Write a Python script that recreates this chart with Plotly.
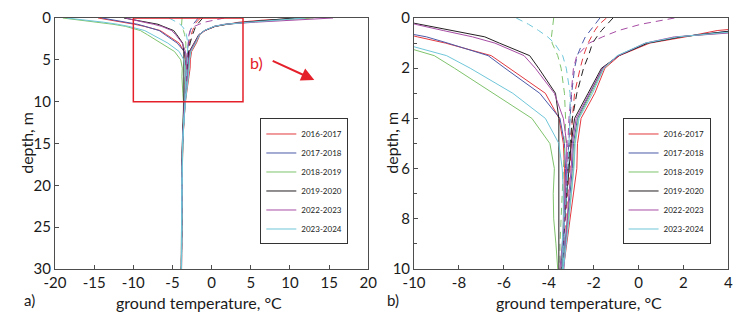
import plotly.graph_objects as go

# ---------------- data ----------------
depth = [0, 0.25, 0.5, 0.75, 1.0, 1.5, 2, 3, 4, 5, 6, 7, 8, 9, 10, 12.5, 15, 20, 25, 30]

years = ["2016-2017", "2017-2018", "2018-2019", "2019-2020", "2022-2023", "2023-2024"]
colors = ["#e2383f", "#4b5aa8", "#7fc36c", "#231f20", "#a64ca4", "#6fc6d9"]

tmin_1617 = [-14.5, -12.8, -11.0, -9.85, -8.6, -6.56, -5.75, -4.15, -3.54, -3.35, -3.3, -3.35, -3.4, -3.45, -3.5, -3.62, -3.72, -3.8, -3.84, -3.86]
tmax_1617 = [12.5, 6.6, 3.5, 2.1, 0.5, -0.85, -1.5, -1.95, -2.56, -2.72, -2.75, -2.9, -3.05, -3.2, -3.35, -3.55, -3.68, -3.78, -3.82, -3.84]
tmean_1617 = [-1.43, -1.75, -1.95, -2.1, -2.25, -2.45, -2.6, -2.85, -2.95, -3.0, -3.05, -3.15, -3.25, -3.32, -3.42, -3.58, -3.7, -3.79, -3.83, -3.85]

tmin_1718 = [-14.0, -12.5, -10.9, -9.45, -8.5, -6.7, -5.95, -4.4, -3.5, -3.3, -3.25, -3.3, -3.35, -3.4, -3.45, -3.6, -3.72, -3.8, -3.84, -3.86]
tmax_1718 = [11.5, 7.3, 4.3, 1.85, 0.4, -0.9, -1.6, -2.15, -2.72, -2.9, -2.95, -3.05, -3.15, -3.28, -3.4, -3.57, -3.7, -3.79, -3.83, -3.85]
tmean_1718 = [-1.72, -1.95, -2.15, -2.37, -2.5, -2.73, -2.85, -2.98, -3.05, -3.1, -3.15, -3.2, -3.28, -3.35, -3.43, -3.58, -3.71, -3.8, -3.84, -3.86]

tmin_1819 = [-19.0, -16.8, -14.4, -12.6, -11.0, -9.1, -8.2, -6.45, -4.75, -3.95, -3.75, -3.8, -3.78, -3.68, -3.6, -3.65, -3.74, -3.81, -3.85, -3.87]
tmax_1819 = [13.0, 8.0, 5.0, 1.8, 0.35, -0.92, -1.55, -2.1, -2.68, -2.85, -2.9, -3.0, -3.12, -3.25, -3.38, -3.56, -3.7, -3.79, -3.83, -3.85]
tmean_1819 = [-3.78, -3.82, -3.86, -3.88, -3.85, -3.6, -3.45, -3.3, -3.25, -3.28, -3.35, -3.4, -3.45, -3.5, -3.5, -3.6, -3.72, -3.8, -3.84, -3.86]

tmin_1920 = [-11.2, -9.8, -8.3, -6.85, -6.2, -4.85, -4.45, -3.7, -3.55, -3.55, -3.55, -3.55, -3.55, -3.55, -3.55, -3.65, -3.75, -3.82, -3.85, -3.88]
tmax_1920 = [10.5, 7.2, 4.3, 1.9, 0.4, -0.88, -1.65, -2.25, -2.85, -3.0, -3.1, -3.2, -3.3, -3.38, -3.45, -3.6, -3.72, -3.8, -3.84, -3.86]
tmean_1920 = [-1.14, -1.4, -1.65, -1.86, -2.05, -2.23, -2.45, -2.75, -2.95, -3.05, -3.15, -3.22, -3.3, -3.38, -3.45, -3.6, -3.72, -3.8, -3.84, -3.86]

tmin_2223 = [-11.0, -9.95, -8.7, -7.4, -6.4, -5.1, -4.6, -3.75, -3.35, -3.2, -3.2, -3.25, -3.3, -3.4, -3.5, -3.62, -3.73, -3.81, -3.84, -3.86]
tmax_2223 = [15.5, 9.5, 5.6, 1.6, 0.3, -0.9, -1.6, -2.2, -2.78, -2.95, -3.0, -3.1, -3.2, -3.3, -3.4, -3.57, -3.7, -3.79, -3.83, -3.85]
tmean_2223 = [1.6, 0.1, -0.9, -1.6, -2.2, -2.75, -2.9, -3.0, -3.1, -3.15, -3.2, -3.25, -3.3, -3.37, -3.44, -3.59, -3.71, -3.8, -3.84, -3.86]

tmin_2324 = [-18.5, -16.0, -13.8, -12.0, -10.6, -8.55, -7.5, -5.6, -4.15, -3.55, -3.4, -3.35, -3.35, -3.4, -3.4, -3.58, -3.72, -3.8, -3.84, -3.86]
tmax_2324 = [12.0, 8.0, 4.8, 1.75, 0.3, -0.95, -1.55, -2.05, -2.65, -2.82, -2.88, -2.98, -3.1, -3.22, -3.35, -3.55, -3.69, -3.79, -3.83, -3.85]
tmean_2324 = [-5.45, -4.9, -4.45, -4.05, -3.75, -3.38, -3.22, -3.05, -3.05, -3.1, -3.15, -3.2, -3.3, -3.35, -3.4, -3.57, -3.7, -3.79, -3.83, -3.85]

tmins = [tmin_1617, tmin_1718, tmin_1819, tmin_1920, tmin_2223, tmin_2324]
tmaxs = [tmax_1617, tmax_1718, tmax_1819, tmax_1920, tmax_2223, tmax_2324]
tmeans = [tmean_1617, tmean_1718, tmean_1819, tmean_1920, tmean_2223, tmean_2324]

xticks_a = [-20, -15, -10, -5, 0, 5, 10, 15, 20]
xlabels_a = ["-20", "-15", "-10", "-5", "0", "5", "10", "15", "20"]
yticks_a = [0, 5, 10, 15, 20, 25, 30]
xticks_b = [-10, -8, -6, -4, -2, 0, 2, 4]
xlabels_b = ["-10", "-8", "-6", "-4", "-2", "0", "2", "4"]
yticks_b = [0, 2, 4, 6, 8, 10]

FONT = "Lato"
AX = "#4d4d4d"
RED = "#e4202a"

# page is drawn with an 8 px body margin: figure pixel = page pixel - 8
W, H = 742, 310
PT, PB = 8, 261          # plot area top / bottom in figure pixels
PH = PB - PT


def px(xp):
    return (xp - 8) / W


def py(yp):
    return (PB - (yp - 8)) / PH


fig = go.Figure()
for panel, (xa, ya, leg) in enumerate([("x", "y", "legend"), ("x2", "y2", "legend2")]):
    for i, yr in enumerate(years):
        c = colors[i]
        fig.add_trace(go.Scatter(x=tmins[i], y=depth, xaxis=xa, yaxis=ya, mode="lines",
                                 line=dict(color=c, width=1), name=yr, legend=leg,
                                 showlegend=True, legendgroup=f"{panel}{yr}"))
        fig.add_trace(go.Scatter(x=tmaxs[i], y=depth, xaxis=xa, yaxis=ya, mode="lines",
                                 line=dict(color=c, width=1), name=yr, legend=leg,
                                 showlegend=False, legendgroup=f"{panel}{yr}"))
        fig.add_trace(go.Scatter(x=tmeans[i], y=depth, xaxis=xa, yaxis=ya, mode="lines",
                                 line=dict(color=c, width=1, dash="7px,5px"), name=yr, legend=leg,
                                 showlegend=False, legendgroup=f"{panel}{yr}"))

axis_common = dict(showline=True, mirror=True, linecolor=AX, linewidth=1, ticks="inside",
                   ticklen=4, tickcolor=AX, showgrid=False, zeroline=False,
                   ticklabeloverflow="allow",
                   tickfont=dict(family=FONT, size=15, color="#1a1a1a"))

legend_common = dict(font=dict(family=FONT, size=8, color="#222"), bgcolor="white",
                     bordercolor="#333", borderwidth=1, xanchor="left", yanchor="bottom",
                     itemwidth=30, tracegroupgap=0)

fig.update_layout(
    width=W, height=H, autosize=False,
    margin=dict(l=0, r=0, t=PT, b=H - PB),
    paper_bgcolor="white", plot_bgcolor="white",
    font=dict(family=FONT, size=15, color="#1a1a1a"),
    xaxis=dict(domain=[px(45), px(367)], range=[-20, 20], tickvals=xticks_a, ticktext=xlabels_a,
               anchor="y", **axis_common),
    yaxis=dict(domain=[0, 1], range=[30, 0], tickvals=yticks_a, anchor="x", **axis_common),
    xaxis2=dict(domain=[px(414), px(737)], range=[-10, 4], tickvals=xticks_b, ticktext=xlabels_b,
                anchor="y2", **axis_common),
    yaxis2=dict(domain=[0, 1], range=[10, 0], tickvals=yticks_b, anchor="x2",
                minor=dict(dtick=1, ticks="inside", ticklen=3, tickcolor=AX), **axis_common),
    legend=dict(x=px(256), y=py(244.3), **legend_common),
    legend2=dict(x=px(628.3), y=py(244.3), **legend_common),
    showlegend=True,
)

# zoom box and pointer
fig.add_shape(type="rect", xref="x", yref="y", x0=-10, x1=4, y0=0, y1=10,
              line=dict(color=RED, width=1.5))
fig.add_annotation(xref="x", yref="y", x=5.7, y=5.3, text="b)", showarrow=False,
                   font=dict(family=FONT, size=16, color=RED))
fig.add_annotation(xref="x", yref="y", axref="x", ayref="y", x=13.1, y=7.4, ax=7.6, ay=5.05,
                   text="", showarrow=True, arrowhead=2, arrowsize=1.3, arrowwidth=2,
                   arrowcolor=RED)

# axis titles and panel labels (page pixel positions)
for xc in [193, 583]:
    fig.add_annotation(xref="paper", yref="paper", x=px(xc), y=py(303),
                       text="ground temperature, °C", showarrow=False,
                       xanchor="center", yanchor="middle", font=dict(family=FONT, size=16))
for xc in [15, 390]:
    fig.add_annotation(xref="paper", yref="paper", x=px(xc), y=py(142),
                       text="depth, m", textangle=-90, showarrow=False,
                       xanchor="center", yanchor="middle", font=dict(family=FONT, size=16))
for xc, lab in [(19, "a)"), (392, "b)")]:
    fig.add_annotation(xref="paper", yref="paper", x=px(xc), y=py(300),
                       text=lab, showarrow=False, xanchor="center", yanchor="middle",
                       font=dict(family=FONT, size=15))

fig.write_html("out.html")
